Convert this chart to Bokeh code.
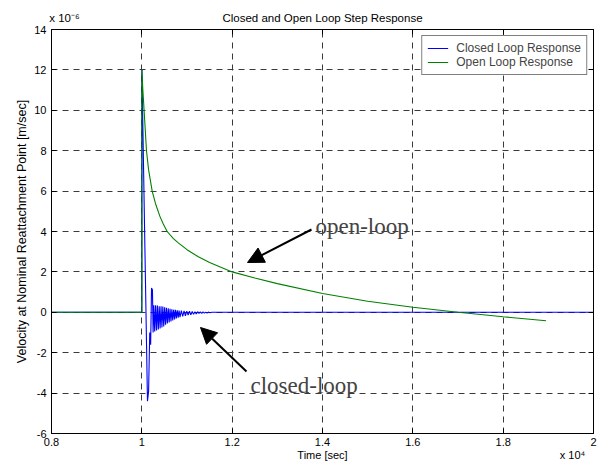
import math
from bokeh.plotting import figure
from bokeh.models import (Label, Arrow, NormalHead, Legend, LegendItem, LinearAxis,
                          FixedTicker, CustomJSTickFormatter, Range1d, ColumnDataSource)
from bokeh.embed import file_html
from bokeh.resources import INLINE

# ---------------- data ----------------
# time in seconds, velocity in units of 1e-6 m/sec
closed_t = [8000, 10000, 10002, 10125, 10150, 10175, 10195, 10215, 10235, 10250,
            10265, 10285, 10305, 10325, 10345, 10365, 10385, 10405, 10425, 10445,
            10465, 10485, 10505, 10525, 10545, 10565, 10585, 10605, 10625, 10645,
            10665, 10685, 10705, 10725, 10745, 10765, 10785, 10805, 10825, 10845,
            10875, 10905, 10935, 10965, 10995, 11025, 11055, 11085, 11115, 11145,
            11175, 11205, 11235, 11265, 11295, 11325, 11355, 11385, 11415, 11445,
            11475, 11505, 11550, 20000]
closed_v = [0.0, 0.0, 12.0, -4.4, -3.9, -1.0, -1.6, 1.2, 1.1, -1.0,
            0.35, -0.95, 0.35, -0.9, 0.33, -0.85, 0.3, -0.8, 0.3, -0.75,
            0.28, -0.7, 0.25, -0.62, 0.22, -0.55, 0.2, -0.5, 0.18, -0.45,
            0.15, -0.4, 0.13, -0.35, 0.12, -0.3, 0.1, -0.27, 0.09, -0.24,
            0.08, -0.2, 0.07, -0.17, 0.06, -0.14, 0.05, -0.12, 0.04, -0.1,
            0.03, -0.08, 0.03, -0.06, 0.02, -0.05, 0.02, -0.04, 0.01, -0.03,
            0.01, -0.02, 0.0, 0.0]

open_t = [8000, 10000, 10002, 10020, 10050, 10103, 10150, 10229, 10300, 10400,
          10470, 10560, 10700, 10800, 11000, 11250, 11500, 12000, 12500, 13000,
          14000, 15000, 16000, 17000, 18000, 18950]
open_v = [0.0, 0.0, 12.0, 11.1, 10.0, 8.0, 7.05, 6.0, 5.4, 4.75,
          4.4, 4.0, 3.65, 3.45, 3.1, 2.75, 2.46, 2.0, 1.7, 1.42,
          0.93, 0.55, 0.25, 0.0, -0.22, -0.42]

x_ticks = [0.8, 1.0, 1.2, 1.4, 1.6, 1.8, 2.0]          # x 10^4 s
y_ticks = [-6, -4, -2, 0, 2, 4, 6, 8, 10, 12, 14]       # x 10^-6 m/s

series_labels = ["Closed Loop Response", "Open Loop Response"]
title_text = "Closed and Open Loop Step Response"
xlabel_text = "Time [sec]"
ylabel_text = "Velocity at Nominal Reattachment Point [m/sec]"
x_mult_text = "x 10\u2074"
y_mult_text = "x 10\u207b\u2076"

# ---------------- layout helpers ----------------
W, H = 600, 470
L, R, T, B = 51, 593, 29, 433
X0, X1, Y0, Y1 = 0.8, 2.0, -6.0, 14.0


def px2x(px):
    return X0 + (px - L) / (R - L) * (X1 - X0)


def py2y(py):
    return Y1 - (py - T) / (B - T) * (Y1 - Y0)


SANS = "Liberation Sans"
SERIF = "Liberation Serif"

p = figure(width=W, height=H, x_range=Range1d(X0, X1), y_range=Range1d(Y0, Y1),
           output_backend="svg", toolbar_location=None,
           min_border_left=L, min_border_right=W - R, min_border_top=T, min_border_bottom=H - B)
p.background_fill_color = "white"
p.border_fill_color = "white"
p.outline_line_color = "black"
p.outline_line_width = 1

src_c = ColumnDataSource(dict(x=[t / 1e4 for t in closed_t], y=closed_v))
src_o = ColumnDataSource(dict(x=[t / 1e4 for t in open_t], y=open_v))

r_closed = p.line("x", "y", source=src_c, line_color="#0000FF", line_width=1.1)
r_open = p.line("x", "y", source=src_o, line_color="#008000", line_width=1.1)

fmt = CustomJSTickFormatter(code="return (Math.round(tick*10)/10).toString();")
blank = CustomJSTickFormatter(code="return '';")

for ax, tk in ((p.xaxis[0], x_ticks), (p.yaxis[0], y_ticks)):
    ax.ticker = FixedTicker(ticks=tk)
    ax.formatter = fmt
    ax.major_tick_in = 5
    ax.major_tick_out = 0
    ax.minor_tick_in = 0
    ax.minor_tick_out = 0
    ax.axis_line_color = "black"
    ax.major_tick_line_color = "black"
    ax.major_label_text_font = SANS
    ax.major_label_text_font_size = "11px"
    ax.major_label_text_color = "black"
    ax.major_label_standoff = 5

p.xaxis[0].major_label_standoff = 4

# y label on an outer, bounded axis so that its centre matches the original position
ylab_axis = LinearAxis(ticker=FixedTicker(ticks=[]), bounds=(py2y(433), py2y(69)),
                       axis_line_color=None, major_tick_line_color=None,
                       minor_tick_line_color=None, major_tick_in=0, major_tick_out=0,
                       minor_tick_in=0, minor_tick_out=0, major_label_standoff=0,
                       major_label_text_font_size="0px",
                       axis_label=ylabel_text, axis_label_standoff=3,
                       axis_label_text_font=SANS, axis_label_text_font_size="12.5px",
                       axis_label_text_font_style="normal", axis_label_text_color="black")
p.add_layout(ylab_axis, "left")

# box axes (ticks only) on top and right
for loc, tk in (("above", x_ticks), ("right", y_ticks)):
    ax = LinearAxis(ticker=FixedTicker(ticks=tk), formatter=blank,
                    major_tick_in=5, major_tick_out=0, minor_tick_in=0, minor_tick_out=0,
                    major_label_text_font_size="0px", major_label_standoff=0,
                    axis_line_color="black", major_tick_line_color="black")
    p.add_layout(ax, loc)

# text rows above and below the frame (title + exponent, x label + exponent)
title_pos = [px2x(322), px2x(64)]
top_text = LinearAxis(ticker=FixedTicker(ticks=title_pos),
                      major_label_overrides={title_pos[0]: title_text, title_pos[1]: y_mult_text},
                      axis_line_color=None, major_tick_line_color=None, minor_tick_line_color=None,
                      major_tick_in=0, major_tick_out=0, minor_tick_in=0, minor_tick_out=0,
                      major_label_standoff=6, major_label_text_font=SANS,
                      major_label_text_font_size="11.5px", major_label_text_color="black")
p.add_layout(top_text, "above")

xlab_pos = [px2x(322), px2x(572)]
bottom_text = LinearAxis(ticker=FixedTicker(ticks=xlab_pos),
                         major_label_overrides={xlab_pos[0]: xlabel_text, xlab_pos[1]: x_mult_text},
                         axis_line_color=None, major_tick_line_color=None, minor_tick_line_color=None,
                         major_tick_in=0, major_tick_out=0, minor_tick_in=0, minor_tick_out=0,
                         major_label_standoff=0, major_label_text_font=SANS,
                         major_label_text_font_size="11px", major_label_text_color="black")
p.add_layout(bottom_text, "below")

p.xgrid.ticker = FixedTicker(ticks=x_ticks)
p.ygrid.ticker = FixedTicker(ticks=y_ticks)
p.grid.grid_line_color = "#3a3a3a"
p.grid.grid_line_dash = "6 5"
p.grid.grid_line_width = 1

legend = Legend(items=[LegendItem(label=series_labels[0], renderers=[r_closed]),
                       LegendItem(label=series_labels[1], renderers=[r_open])],
                location="top_right", margin=6, padding=5, spacing=0,
                glyph_width=21, glyph_height=12, label_height=12, label_standoff=8,
                label_text_font=SANS, label_text_font_size="12px",
                border_line_color="black", border_line_width=1,
                background_fill_color="white", background_fill_alpha=1)
p.add_layout(legend)

# annotations inside the axes
p.add_layout(Label(x=px2x(315), y=py2y(226), text="open-loop", text_align="left",
                   text_baseline="alphabetic", text_font=SERIF, text_font_size="23px"))
p.add_layout(Label(x=px2x(250), y=py2y(385), text="closed-loop", text_align="left",
                   text_baseline="alphabetic", text_font=SERIF, text_font_size="23px"))
p.add_layout(Arrow(end=NormalHead(size=16, fill_color="black", line_color="black"),
                   x_start=px2x(311), y_start=py2y(229), x_end=px2x(247), y_end=py2y(262),
                   line_color="black", line_width=2))
p.add_layout(Arrow(end=NormalHead(size=16, fill_color="black", line_color="black"),
                   x_start=px2x(246), y_start=py2y(371), x_end=px2x(200), y_end=py2y(327),
                   line_color="black", line_width=2))

open("out.html", "w").write(file_html(p, INLINE))
